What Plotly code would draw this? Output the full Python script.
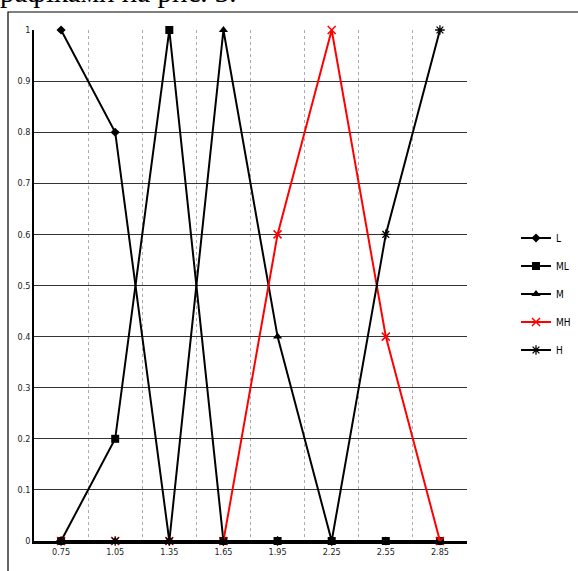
import plotly.graph_objects as go

categories = ["0.75", "1.05", "1.35", "1.65", "1.95", "2.25", "2.55", "2.85"]
L = [1, 0.8, 0, 0, 0, 0, 0, 0]
ML = [0, 0.2, 1, 0, 0, 0, 0, 0]
M = [0, 0, 0, 1, 0.4, 0, 0, 0]
MH = [0, 0, 0, 0, 0.6, 1, 0.4, 0]
H = [0, 0, 0, 0, 0, 0, 0.6, 1]
y_ticks = [0, 0.1, 0.2, 0.3, 0.4, 0.5, 0.6, 0.7, 0.8, 0.9, 1]
y_labels = ["0", "0.1", "0.2", "0.3", "0.4", "0.5", "0.6", "0.7", "0.8", "0.9", "1"]

W, Hh = 578, 571
ml, mr, mt, mb = 34, 111, 30, 30
pw, ph = W - ml - mr, Hh - mt - mb

def px_x(p):
    return (p - ml) / pw

def px_y(p):
    return (Hh - mb - p) / ph

series = [
    ("L", L, "black", dict(symbol="diamond", size=7, color="black")),
    ("ML", ML, "black", dict(symbol="square", size=8, color="black")),
    ("M", M, "black", dict(symbol="triangle-up", size=8, color="black")),
    ("MH", MH, "red", dict(symbol="x-thin-open", size=8, color="red", line=dict(color="red", width=1.5))),
    ("H", H, "black", dict(symbol="asterisk-open", size=8, color="black", line=dict(color="black", width=1.3))),
]

fig = go.Figure()
for name, vals, col, mk in series:
    fig.add_trace(go.Scatter(
        x=categories, y=vals, name=name, mode="lines+markers",
        line=dict(color=col, width=2), marker=mk, cliponaxis=False,
        legendgroup=name,
    ))

narrow = "Liberation Sans Narrow, DejaVu Sans Condensed, Liberation Sans"

fig.update_layout(
    width=W, height=Hh,
    margin=dict(l=ml, r=mr, t=mt, b=mb, autoexpand=False),
    paper_bgcolor="white", plot_bgcolor="white",
    font=dict(family=narrow, size=9, color="black"),
    showlegend=True,
    legend=dict(xref="container", yref="container",
                x=516 / W, y=1 - 294 / Hh, xanchor="left", yanchor="middle",
                font=dict(size=10, family=narrow), tracegroupgap=9, bgcolor="rgba(0,0,0,0)",
                itemwidth=30),
    xaxis=dict(type="category", tickson="boundaries", ticks="", ticklen=0,
               showgrid=True, gridcolor="#aaaaaa", griddash="dot", gridwidth=1,
               showline=True, linecolor="black", linewidth=3,
               tickfont=dict(size=9, color="#222222"), range=[-0.5, 7.5]),
    yaxis=dict(range=[0, 1], tickvals=y_ticks, ticktext=y_labels,
               showgrid=True, gridcolor="#333333", gridwidth=1,
               zeroline=False, showline=True, linecolor="black", linewidth=1.5,
               ticks="", tickfont=dict(size=9, color="#222222")),
    shapes=[dict(type="rect", xref="paper", yref="paper",
                 x0=px_x(8), x1=px_x(600), y0=px_y(600), y1=px_y(12),
                 line=dict(color="black", width=1.2), fillcolor="rgba(0,0,0,0)",
                 layer="below")],
    annotations=[dict(text="графіками на рис. 3.", xref="paper", yref="paper",
                      x=px_x(239), y=px_y(-8), xanchor="right", yanchor="middle",
                      showarrow=False,
                      font=dict(family="Liberation Serif", size=29, color="black"))],
)

fig.write_html("out.html", config={"displayModeBar": False},
               post_script="document.body.style.margin='0px';document.body.style.overflow='hidden';")
